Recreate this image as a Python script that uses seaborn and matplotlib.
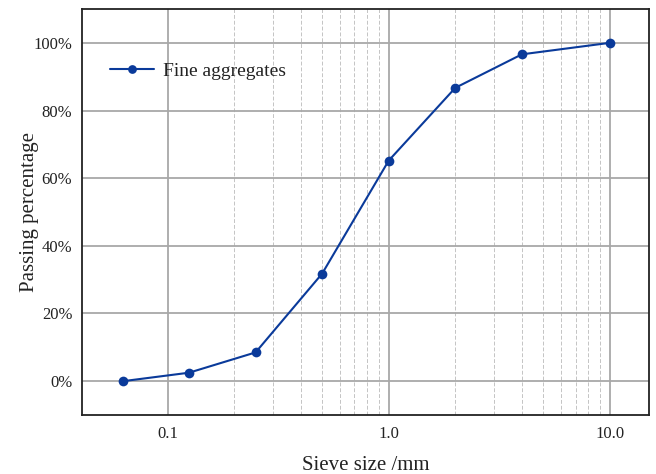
import matplotlib
matplotlib.use("Agg")
import matplotlib.pyplot as plt
import matplotlib.ticker as mticker
import numpy as np
import pandas as pd
import seaborn as sns

# Sieve analysis of the fine aggregates
sieve_size_mm = [0.063, 0.125, 0.25, 0.5, 1.0, 2.0, 4.0, 10.0]
passing_pct = [0.0, 2.5, 8.5, 31.8, 65.2, 86.7, 96.6, 100.0]
series_name = "Fine aggregates"

x_major = [0.1, 1.0, 10.0]
x_major_labels = ["0.1", "1.0", "10.0"]
y_major = [0, 20, 40, 60, 80, 100]

df = pd.DataFrame({"size": sieve_size_mm, "passing": passing_pct, "series": series_name})

sns.set_style("white")
plt.rcParams["font.family"] = ["Liberation Serif", "DejaVu Serif"]
plt.rcParams["mathtext.fontset"] = "stix"

fig = plt.figure(figsize=(6.56, 4.74), dpi=100)
ax = fig.add_axes([0.125, 0.1245, 0.864, 0.8565])

line_color = "#0a3a9a"
sns.lineplot(data=df, x="size", y="passing", hue="series", palette=[line_color],
             marker="o", markersize=7, markeredgewidth=0, linewidth=1.5, ax=ax)

ax.set_xscale("log")
ax.set_xlim(0.041, 15.0)
ax.set_ylim(-10, 110)

# major and minor ticks
ax.xaxis.set_major_locator(mticker.FixedLocator(x_major))
ax.xaxis.set_major_formatter(mticker.FixedFormatter(x_major_labels))
minor_x = [m * d for d in (0.1, 1.0) for m in range(2, 10)]
ax.xaxis.set_minor_locator(mticker.FixedLocator(minor_x))
ax.xaxis.set_minor_formatter(mticker.NullFormatter())
ax.yaxis.set_major_locator(mticker.FixedLocator(y_major))
ax.yaxis.set_major_formatter(mticker.FuncFormatter(lambda v, p: f"{v:.0f}%"))
ax.yaxis.set_minor_locator(mticker.MultipleLocator(10))

ax.tick_params(axis="both", which="major", direction="in", length=5, width=1,
               labelsize=12, pad=7, colors="#222222", labelcolor="#222222")
ax.tick_params(axis="x", which="major", pad=8)
ax.tick_params(axis="both", which="minor", direction="in", length=3, width=1,
               colors="#222222")
ax.tick_params(top=False, right=False, which="both")

# grid
ax.grid(True, which="major", color="#a8a8a8", linewidth=1.3, linestyle="-")
ax.grid(True, which="minor", axis="x", color="#c4c4c4", linewidth=0.7, linestyle=(0, (4, 2)))
ax.set_axisbelow(True)

for side in ax.spines.values():
    side.set_color("#222222")
    side.set_linewidth(1.3)
    side.set_visible(True)

ax.set_xlabel("Sieve size /mm", fontsize=15, labelpad=10, color="#222222")
ax.set_ylabel("Passing percentage", fontsize=15, labelpad=-4, color="#222222")

leg = ax.legend(loc="upper left", bbox_to_anchor=(0.035, 0.888), frameon=False,
                fontsize=14, handlelength=2.3, handletextpad=0.45, borderaxespad=0,
                markerscale=0.9)
for t in leg.get_texts():
    t.set_color("#222222")

fig.savefig("out.png", dpi=100)
